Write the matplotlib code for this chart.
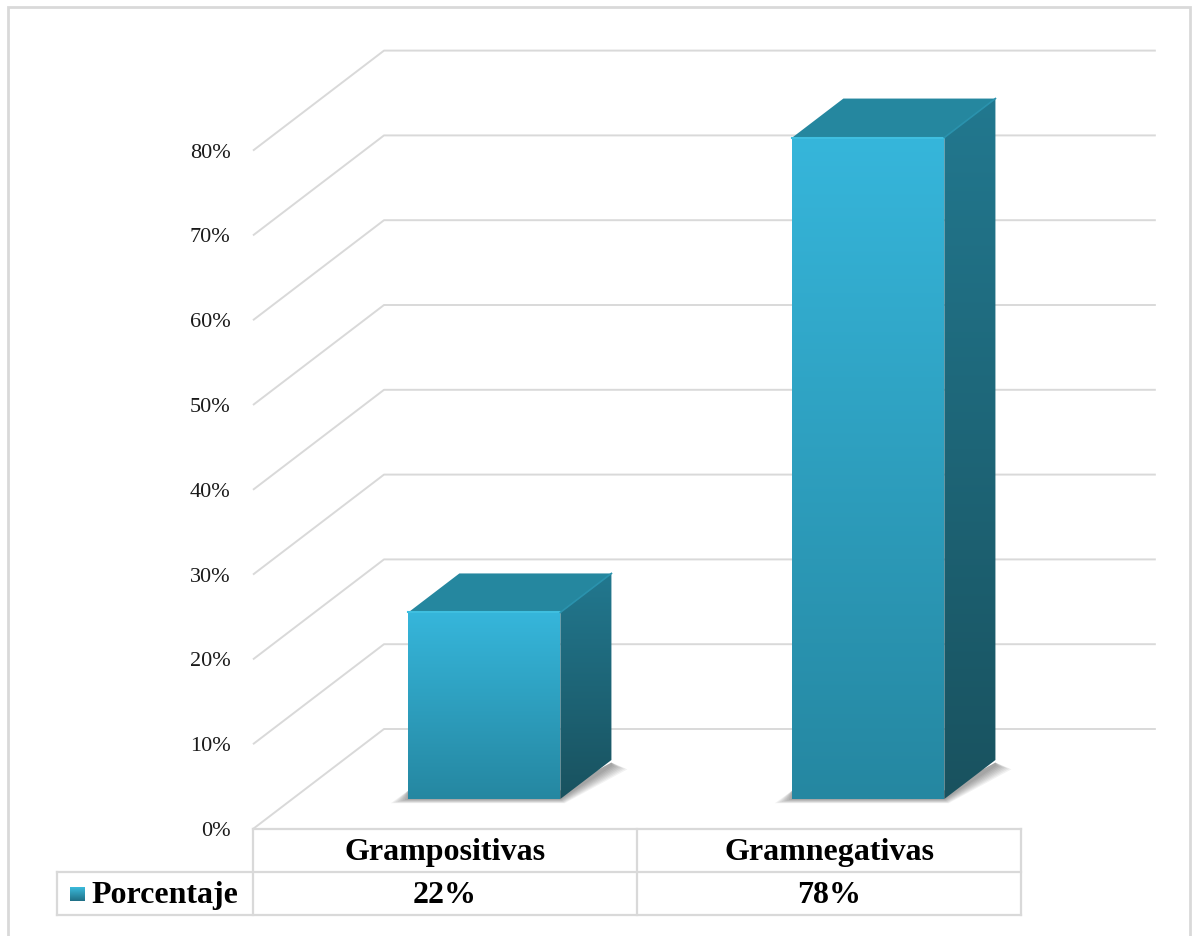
import numpy as np
import matplotlib.pyplot as plt
from matplotlib.patches import Polygon, Rectangle
from matplotlib.colors import LinearSegmentedColormap

categories = ["Grampositivas", "Gramnegativas"]
values = [22, 78]
value_labels = ["22%", "78%"]
series_name = "Porcentaje"
y_ticks = [0, 10, 20, 30, 40, 50, 60, 70, 80]

W, H = 1193, 936
PX_CAT = 384.0      # pixels per category
PX_PCT = 8.48       # pixels per percent
X0, Y0 = 253, 829   # pixel of front-left floor corner

# 3D layout (in data units)
DEPTH_DX = 131 / PX_CAT
DEPTH_DY = 100 / PX_PCT
BAR_W = 0.396
BAR_D0 = 0.30       # bar front depth (fraction)
BAR_DEPTH = 0.39    # bar depth (fraction)
ROW_H = 43 / PX_PCT
GRID = "#d9d9d9"

fig = plt.figure(figsize=(W / 100, H / 100), dpi=100)
ax = fig.add_axes([0, 0, 1, 1])
ax.set_xlim(-X0 / PX_CAT, (W - X0) / PX_CAT)
ax.set_ylim(-(H - Y0) / PX_PCT, Y0 / PX_PCT)
ax.axis("off")

n = len(categories)

# gridlines: front diagonal + back wall
for t in y_ticks:
    ax.plot([0, DEPTH_DX, n + DEPTH_DX + 0.01],
            [t, t + DEPTH_DY, t + DEPTH_DY],
            color=GRID, lw=1.4, zorder=1, solid_capstyle="butt")
    ax.text(-0.058, t - 0.3, f"{t}%", ha="right", va="center",
            fontsize=16, family="Liberation Serif", color="#1a1a1a")


def gradient_face(poly_pts, c_top, c_bot, zorder):
    poly = Polygon(poly_pts, closed=True, fc="none", ec="none", zorder=zorder)
    ax.add_patch(poly)
    xs = [p[0] for p in poly_pts]
    ys = [p[1] for p in poly_pts]
    cmap = LinearSegmentedColormap.from_list("g", [c_bot, c_top])
    grad = np.linspace(0, 1, 256).reshape(-1, 1)
    im = ax.imshow(grad, cmap=cmap, origin="lower", aspect="auto",
                   extent=[min(xs), max(xs), min(ys), max(ys)],
                   zorder=zorder, interpolation="bilinear")
    im.set_clip_path(poly)


for i, v in enumerate(values):
    ox = BAR_D0 * DEPTH_DX
    oy = BAR_D0 * DEPTH_DY
    ddx = BAR_DEPTH * DEPTH_DX
    ddy = BAR_DEPTH * DEPTH_DY
    left = i + 0.5 - BAR_W / 2 + ox
    right = left + BAR_W
    base = oy
    top = oy + v

    # soft shadow under the bar
    for k in range(8):
        g = 0.003 + k * 0.005
        gy = 0.08 + k * 0.06
        shadow = [(left - g * 1.2, base - gy), (right + g * 0.3, base - gy),
                  (right + ddx + g * 1.1, base + ddy - 0.6 - gy),
                  (right + ddx, base + ddy - 0.3),
                  (right, base + 1.0), (left, base + 1.0)]
        ax.add_patch(Polygon(shadow, closed=True, fc="#000000", ec="none",
                             alpha=0.05, zorder=2))

    front = [(left, base), (right, base), (right, top), (left, top)]
    side = [(right, base), (right + ddx, base + ddy),
            (right + ddx, top + ddy), (right, top)]
    lid = [(left, top), (right, top), (right + ddx, top + ddy),
           (left + ddx, top + ddy)]

    gradient_face(front, "#36b6db", "#2587a1", 3)
    gradient_face(side, "#22788f", "#19525f", 3)
    ax.add_patch(Polygon(lid, closed=True, fc="#25879f", ec="none", zorder=3))
    # soft highlight along front top edge
    ax.plot([left, right], [top, top], color="#3fbfe0", lw=1.5, zorder=4)
    ax.plot([right, right + ddx], [top, top + ddy], color="#2a92ad", lw=1.2, zorder=4)

# data table
tb = 0
t1 = -ROW_H
t2 = -2 * ROW_H
leg_left = -(X0 - 57) / PX_CAT
lines = [([0, n], [tb, tb]), ([leg_left, n], [t1, t1]), ([leg_left, n], [t2, t2]),
         ([leg_left, leg_left], [t1, t2])]
for c in range(n + 1):
    lines.append(([c, c], [tb, t2]))
for xs, ys in lines:
    ax.plot(xs, ys, color=GRID, lw=1.6, zorder=1, solid_capstyle="projecting")

for i, (cat, lab) in enumerate(zip(categories, value_labels)):
    ax.text(i + 0.5, (tb + t1) / 2 - 0.25, cat, ha="center", va="center",
            fontsize=23, fontweight="bold", family="Liberation Serif")
    ax.text(i + 0.5, (t1 + t2) / 2 - 0.25, lab, ha="center", va="center",
            fontsize=23, fontweight="bold", family="Liberation Serif")

# legend key inside table
kx0 = -(X0 - 70) / PX_CAT
kx1 = -(X0 - 85) / PX_CAT
ky0 = (t1 + t2) / 2 - 7 / PX_PCT
ky1 = (t1 + t2) / 2 + 7 / PX_PCT
gradient_face([(kx0, ky0), (kx1, ky0), (kx1, ky1), (kx0, ky1)],
              "#3ec0e2", "#1f6f85", 3)
ax.text(-(X0 - 91) / PX_CAT, (t1 + t2) / 2 - 0.25, series_name,
        ha="left", va="center", fontsize=23, fontweight="bold",
        family="Liberation Serif")

# outer chart border
fig.add_artist(Rectangle((8 / W, -0.01), (1190 - 8) / W, 1 - 7 / H + 0.01,
                         transform=fig.transFigure, fill=False,
                         ec=GRID, lw=2))

fig.savefig("out.png", dpi=100)
